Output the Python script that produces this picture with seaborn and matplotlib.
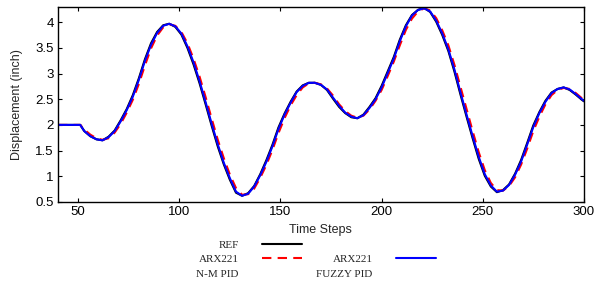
import numpy as np
import pandas as pd
import matplotlib
matplotlib.use('Agg')
import matplotlib.pyplot as plt
from matplotlib.lines import Line2D
from matplotlib.ticker import FuncFormatter
import seaborn as sns

# time steps
steps = [40, 51, 53, 56, 59, 62, 65, 68, 71, 74, 77, 80, 83, 86, 89, 92, 95, 98,
         101, 104, 107, 110, 113, 116, 119, 122, 125, 128, 131, 134, 137, 140,
         143, 146, 149, 152, 155, 158, 161, 164, 167, 170, 173, 176, 179, 182,
         185, 188, 191, 194, 197, 200, 203, 206, 209, 212, 215, 218, 221, 224,
         227, 230, 233, 236, 239, 242, 245, 248, 251, 254, 257, 260, 263, 266,
         269, 272, 275, 278, 281, 284, 287, 290, 293, 296, 299, 300]

ref = [2.00, 2.00, 1.88, 1.78, 1.72, 1.70, 1.77, 1.89, 2.09, 2.31, 2.58, 2.91, 3.28, 3.59, 3.81, 3.94, 3.97, 3.91,
       3.76, 3.50, 3.18, 2.81, 2.40, 1.98, 1.58, 1.23, 0.93, 0.68, 0.62, 0.67, 0.81, 1.04,
       1.31, 1.61, 1.95, 2.22, 2.45, 2.65, 2.77, 2.82, 2.82, 2.78, 2.68, 2.51, 2.35, 2.23,
       2.15, 2.13, 2.20, 2.35, 2.52, 2.76, 3.04, 3.32, 3.66, 3.94, 4.14, 4.24, 4.28, 4.20,
       4.01, 3.75, 3.44, 3.04, 2.59, 2.16, 1.74, 1.34, 1.01, 0.80, 0.69, 0.73, 0.84, 1.05,
       1.32, 1.65, 1.99, 2.25, 2.47, 2.63, 2.70, 2.73, 2.68, 2.59, 2.49, 2.46]

nm_pid = [2.00, 2.00, 1.91, 1.81, 1.74, 1.71, 1.74, 1.85, 2.02, 2.24, 2.49, 2.80, 3.16, 3.49, 3.74, 3.90, 3.96, 3.93,
          3.81, 3.59, 3.29, 2.94, 2.54, 2.12, 1.71, 1.35, 1.03, 0.77, 0.64, 0.65, 0.76, 0.97,
          1.22, 1.51, 1.84, 2.13, 2.38, 2.58, 2.73, 2.81, 2.82, 2.79, 2.71, 2.57, 2.40, 2.27,
          2.18, 2.14, 2.18, 2.30, 2.47, 2.68, 2.95, 3.23, 3.55, 3.85, 4.07, 4.21, 4.27, 4.23,
          4.08, 3.84, 3.55, 3.17, 2.74, 2.31, 1.88, 1.47, 1.12, 0.87, 0.73, 0.72, 0.81, 0.98,
          1.23, 1.54, 1.88, 2.16, 2.40, 2.58, 2.68, 2.72, 2.70, 2.62, 2.52, 2.49]

fuzzy_pid = [2.00, 2.00, 1.88, 1.78, 1.72, 1.70, 1.76, 1.88, 2.07, 2.29, 2.55, 2.88, 3.25, 3.56, 3.79, 3.93, 3.97, 3.92,
             3.78, 3.53, 3.22, 2.85, 2.44, 2.02, 1.62, 1.26, 0.96, 0.70, 0.62, 0.66, 0.80, 1.02,
             1.28, 1.58, 1.92, 2.20, 2.43, 2.64, 2.76, 2.82, 2.82, 2.78, 2.69, 2.53, 2.37, 2.24,
             2.16, 2.13, 2.19, 2.33, 2.50, 2.73, 3.01, 3.29, 3.63, 3.92, 4.13, 4.24, 4.27, 4.21,
             4.03, 3.78, 3.47, 3.08, 2.63, 2.20, 1.78, 1.38, 1.04, 0.82, 0.70, 0.72, 0.83, 1.03,
             1.29, 1.62, 1.96, 2.23, 2.45, 2.62, 2.70, 2.73, 2.69, 2.60, 2.50, 2.47]

df = pd.DataFrame({'step': steps, 'ref': ref, 'nm': nm_pid, 'fuzzy': fuzzy_pid})

sns.set_style('ticks')
plt.rcParams['font.family'] = ['Liberation Sans', 'DejaVu Sans']

fig = plt.figure(figsize=(6.01, 2.84), dpi=100)
ax = fig.add_axes([0.0965, 0.289, 0.875, 0.687])

sns.lineplot(data=df, x='step', y='ref', ax=ax, color='black', lw=1.5)
sns.lineplot(data=df, x='step', y='nm', ax=ax, color='#ff0000', lw=1.5)
ax.lines[-1].set_dashes([4.5, 3])
sns.lineplot(data=df, x='step', y='fuzzy', ax=ax, color='#0000ff', lw=1.5)

ax.set_xlim(40, 300)
ax.set_ylim(0.5, 4.3)
ax.set_xticks([50, 100, 150, 200, 250, 300])
ax.set_yticks([0.5, 1, 1.5, 2, 2.5, 3, 3.5, 4])
ax.yaxis.set_major_formatter(FuncFormatter(lambda v, p: '%g' % v))
ax.tick_params(direction='in', top=True, right=True, length=3, width=0.8,
               labelsize=9.5, pad=3, colors='black')
for s in ax.spines.values():
    s.set_linewidth(1.0)
    s.set_color('black')
ax.set_xlabel('Time Steps', fontsize=9, labelpad=4)
ax.set_ylabel('Displacement (inch)', fontsize=9, labelpad=9)

# legend: two columns, labels left of the line samples
blank = Line2D([], [], alpha=0)
handles = [Line2D([], [], color='black', lw=1.5),
           Line2D([], [], color='#ff0000', lw=1.5, dashes=[4.5, 3]),
           blank, blank,
           Line2D([], [], color='#0000ff', lw=1.5),
           blank]
labels = ['REF', 'ARX221', 'N-M PID', ' ', 'ARX221', 'FUZZY PID']
fig.legend(handles, labels, ncol=2, loc='upper left', bbox_to_anchor=(0.317, 0.174),
           frameon=False, markerfirst=False, handlelength=3.6, handletextpad=2.1,
           columnspacing=1.3, labelspacing=0.42, borderpad=0,
           prop={'family': 'Liberation Serif', 'size': 8})

fig.savefig('out.png', dpi=100)
